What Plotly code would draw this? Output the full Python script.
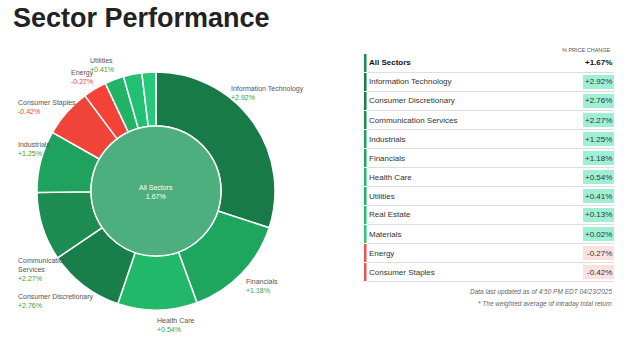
import math
import plotly.graph_objects as go

# ---------------- data ----------------
sectors = ["Information Technology", "Financials", "Health Care", "Consumer Discretionary",
           "Communication Services", "Industrials", "Consumer Staples", "Energy",
           "Utilities", "Real Estate", "Materials"]
weights = [30.0, 14.4, 10.8, 10.3, 9.3, 8.4, 6.6, 3.2, 2.6, 2.5, 1.9]
changes = [2.92, 1.18, 0.54, 2.76, 2.27, 1.25, -0.42, -0.27, 0.41, 0.13, 0.02]
slice_colors = ["#177a47", "#1fa65e", "#22b86a", "#187e4a", "#1c8c51", "#1ea25d",
                "#f0433a", "#f44336", "#21b467", "#22c072", "#29c77a"]
labeled_sectors = ["Information Technology", "Financials", "Health Care", "Consumer Discretionary",
                   "Communication Services", "Industrials", "Consumer Staples", "Energy", "Utilities"]

all_label = "All Sectors"
all_change = 1.67

table_sectors = ["Information Technology", "Consumer Discretionary", "Communication Services",
                 "Industrials", "Financials", "Health Care", "Utilities", "Real Estate",
                 "Materials", "Energy", "Consumer Staples"]
table_changes = [2.92, 2.76, 2.27, 1.25, 1.18, 0.54, 0.41, 0.13, 0.02, -0.27, -0.42]

title_text = "Sector Performance"
header_text = "% PRICE CHANGE"
footnotes = ["Data last updated as of 4:50 PM EDT 04/23/2025",
             "* The weighted average of intraday total return"]

# ---------------- layout helpers ----------------
W, H = 624, 343
FONT = "Liberation Sans, Arial, sans-serif"


def px(x):
    return x / W


def py(y):
    return 1 - y / H


CX, CY, R, R_IN = 156, 191, 119, 65

fig = go.Figure()

# outer ring
fig.add_trace(go.Pie(
    labels=sectors, values=weights, sort=False, direction="clockwise", rotation=0,
    hole=R_IN / R, textinfo="none", hoverinfo="skip",
    marker=dict(colors=slice_colors, line=dict(color="white", width=1.5)),
    domain=dict(x=[px(CX - R), px(CX + R)], y=[py(CY + R), py(CY - R)]),
    showlegend=False,
))
# centre disc
fig.add_trace(go.Pie(
    labels=[all_label], values=[1], textinfo="none", hoverinfo="skip",
    marker=dict(colors=["#4caf7d"], line=dict(color="white", width=1.5)),
    domain=dict(x=[px(CX - R_IN), px(CX + R_IN)], y=[py(CY + R_IN), py(CY - R_IN)]),
    showlegend=False,
))

annotations = []
shapes = []

# centre text
annotations.append(dict(x=px(CX), y=py(CY + 1), xref="paper", yref="paper",
                        xanchor="center", yanchor="middle",
                        text=f"{all_label}<br>{all_change:.2f}%", showarrow=False,
                        font=dict(family=FONT, size=7, color="white"), align="center"))

# slice labels, positioned from slice mid-angles
label_nudge = {"Communication Services": (0, 36), "Information Technology": (-4, -14),
               "Health Care": (18, -9), "Industrials": (0, -6), "Consumer Staples": (0, 10),
               "Energy": (0, 8), "Utilities": (-4, 8), "Consumer Discretionary": (0, -4),
               "Financials": (3, -4)}
total = sum(weights)
cum = 0.0
for name, w, ch in zip(sectors, weights, changes):
    mid = (cum + w / 2) / total * 2 * math.pi
    cum += w
    if name not in labeled_sectors:
        continue
    rl = R * 1.2
    ax = CX + rl * math.sin(mid)
    ay = CY - rl * math.cos(mid)
    dx, dy = label_nudge.get(name, (0, 0))
    ay += dy
    ax += dx
    s = math.sin(mid)
    if s < -0.6:
        xa, xpos = "left", 16
    else:
        xa, xpos = "center", ax
    nm = name.replace("Communication Services", "Communication<br>Services")
    vcol = "#3a9d3a" if ch >= 0 else "#f44336"
    annotations.append(dict(
        x=px(xpos), y=py(ay), xref="paper", yref="paper", xanchor=xa, yanchor="middle",
        align="left", showarrow=False,
        text=f"<span style='color:#555555'>{nm}</span><br><span style='color:{vcol}'>{ch:+.2f}%</span>",
        font=dict(family=FONT, size=7)))

# title
annotations.append(dict(x=px(11), y=py(18), xref="paper", yref="paper", xanchor="left",
                        yanchor="middle", showarrow=False, text=f"<b>{title_text}</b>",
                        font=dict(family=FONT, size=27, color="#222222")))

# ---------------- table ----------------
TX0, TX1 = 364, 614
ROW0, ROWH = 63, 19
annotations.append(dict(x=px(613), y=py(50), xref="paper", yref="paper", xanchor="right",
                        yanchor="middle", showarrow=False, text=header_text,
                        font=dict(family=FONT, size=5.5, color="#555555")))

rows = [(all_label, all_change, "#1e8a4e", True)]
color_of = dict(zip(sectors, slice_colors))
for name, ch in zip(table_sectors, table_changes):
    bar = color_of[name] if ch >= 0 else "#ef5350"
    rows.append((name, ch, bar, False))

for i, (name, ch, bar, bold) in enumerate(rows):
    yc = ROW0 + ROWH * i
    shapes.append(dict(type="rect", xref="paper", yref="paper",
                       x0=px(TX0), x1=px(TX0 + 2.5), y0=py(yc + 9), y1=py(yc - 9),
                       fillcolor=bar, line=dict(width=0)))
    shapes.append(dict(type="line", xref="paper", yref="paper",
                       x0=px(TX0 + 4), x1=px(TX1), y0=py(yc + 9.5), y1=py(yc + 9.5),
                       line=dict(color="#dedede", width=1)))
    if not bold:
        shapes.append(dict(type="rect", xref="paper", yref="paper",
                           x0=px(583), x1=px(TX1), y0=py(yc + 7), y1=py(yc - 7),
                           fillcolor="#9eefd3" if ch >= 0 else "#fde1e1", line=dict(width=0)))
    lbl = f"<b>{name}</b>" if bold else name
    val = f"<b>{ch:+.2f}%</b>" if bold else f"{ch:+.2f}%"
    annotations.append(dict(x=px(TX0 + 3), y=py(yc), xref="paper", yref="paper", xanchor="left",
                            yanchor="middle", showarrow=False, text=lbl,
                            font=dict(family=FONT, size=8, color="#111111" if bold else "#333333")))
    annotations.append(dict(x=px(TX1), y=py(yc), xref="paper", yref="paper", xanchor="right",
                            yanchor="middle", showarrow=False, text=val,
                            font=dict(family=FONT, size=8, color="#111111" if bold else "#333333")))

for j, note in enumerate(footnotes):
    annotations.append(dict(x=px(TX1), y=py(292 + 12 * j), xref="paper", yref="paper",
                            xanchor="right", yanchor="middle", showarrow=False,
                            text=f"<i>{note}</i>",
                            font=dict(family=FONT, size=6.5, color="#666666")))

fig.update_layout(width=W, height=H, margin=dict(l=0, r=0, t=0, b=0),
                  paper_bgcolor="white", plot_bgcolor="white",
                  annotations=annotations, shapes=shapes, showlegend=False)
fig.write_html("out.html", config={"displayModeBar": False})
